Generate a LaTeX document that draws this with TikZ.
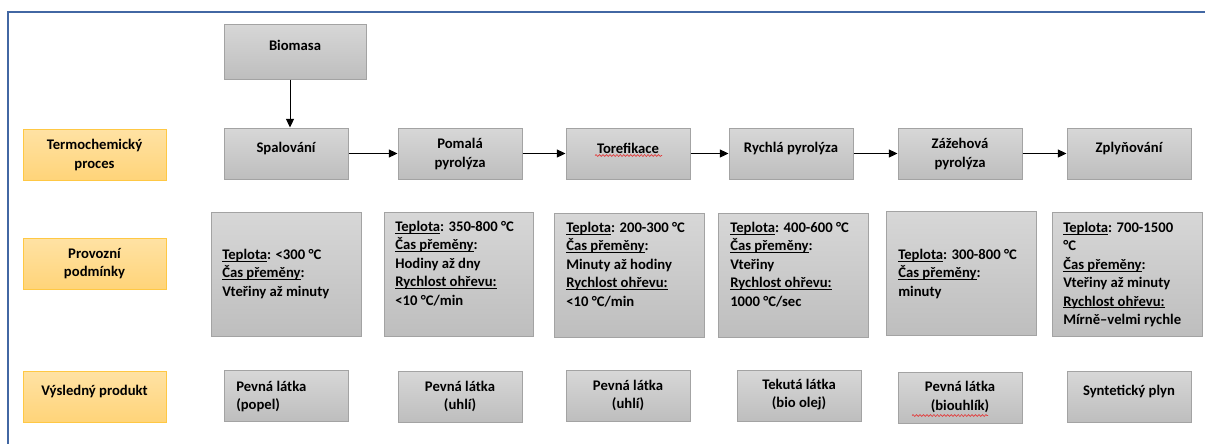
\documentclass[tikz,border=0pt]{standalone}
\usepackage{fontspec}
\setmainfont{Carlito}
\usetikzlibrary{arrows.meta,decorations.pathmorphing,calc}
\definecolor{gtop}{HTML}{D7D7D7}
\definecolor{gbot}{HTML}{BEBEBE}
\definecolor{gborder}{HTML}{A3A3A3}
\definecolor{otop}{HTML}{FFE2A4}
\definecolor{obot}{HTML}{FFD479}
\definecolor{oborder}{HTML}{FFC844}
\definecolor{frameblue}{HTML}{4267A3}
\definecolor{squig}{HTML}{E23B3B}
\newcommand\lefttab[1]{\begin{tabular}[t]{@{}l@{}}#1\end{tabular}}
\newsavebox\ulbox
\newcommand\ul[1]{\sbox\ulbox{#1}\rlap{\rule[-1.5pt]{\wd\ulbox}{0.6pt}}\usebox\ulbox}
\tikzset{
  gbox/.style={draw=gborder, line width=0.75pt, top color=gtop, bottom color=gbot, inner sep=0pt},
  obox/.style={draw=oborder, line width=0.75pt, top color=otop, bottom color=obot, inner sep=0pt},
  txt/.style={font=\fontsize{11}{13.8}\selectfont\bfseries, inner sep=0pt, text=black, align=center},
  arr/.style={line width=0.75pt, -{Triangle[length=6.5pt,width=6pt]}},
  squiggle/.style={squig, line width=0.5pt, decorate, decoration={snake, segment length=2.6pt, amplitude=0.7pt}},
}
% \bx{style}{name}{x1}{y1}{x2}{y2}
\newcommand\bx[6]{\node[#1, minimum width={(#5-#3)*0.75pt}, minimum height={(#6-#4)*0.75pt}] (#2) at ({(#3+#5)/2},{(#4+#6)/2}) {};}
\begin{document}
\begin{tikzpicture}[x=0.75pt,y=-0.75pt]
\useasboundingbox (0,0) rectangle (1205,444);
\fill[white] (0,0) rectangle (1205,444);
% frame
\draw[frameblue, line width=1.5pt] (1205,11.5) -- (7.5,11.5) -- (7.5,444);

% row labels
\bx{obox}{lab1}{23}{129}{166}{180}
\bx{obox}{lab2}{23}{238}{166}{289}
\bx{obox}{lab3}{23}{371}{166}{422}
\node[txt] (lab1t) at (94.5,155) {Termochemický\\proces};
\node[txt] (lab2t) at (94.5,263.5) {Provozní\\podmínky};
\node[txt] (lab3t) at (94.5,391) {Výsledný produkt};

% biomass
\bx{gbox}{bio}{224}{24}{366}{79}
\node[txt] (biot) at (295,45) {Biomasa};

% row 1: processes
\bx{gbox}{p1}{224}{128}{348}{179}
\bx{gbox}{p2}{398}{128}{522}{179}
\bx{gbox}{p3}{566}{128}{690}{179}
\bx{gbox}{p4}{729}{128}{853}{179}
\bx{gbox}{p5}{898}{128}{1022}{179}
\bx{gbox}{p6}{1067}{128}{1191}{179}
\node[txt] (p1t) at (286,148) {Spalování};
\node[txt] (p2t) at (460,154) {Pomalá\\pyrolýza};
\node[txt] (p3t) at (628,148) {Torefikace};
\node[txt] (p4t) at (791,148) {Rychlá pyrolýza};
\node[txt] (p5t) at (960,154) {Zážehová\\pyrolýza};
\node[txt] (p6t) at (1129,148) {Zplyňování};
\draw[squiggle] (595,155.5) -- (662,155.5);

% arrows
\coordinate (bx) at (290,0);
\draw[arr] (bio.south -| bx) -- (p1.north -| bx);
\draw[arr] (p1.east) -- (p2.west);
\draw[arr] (p2.east) -- (p3.west);
\draw[arr] (p3.east) -- (p4.west);
\draw[arr] (p4.east) -- (p5.west);
\draw[arr] (p5.east) -- (p6.west);

% row 2: conditions
\bx{gbox}{c1}{211}{212}{361}{336}
\bx{gbox}{c2}{384}{212}{533}{336}
\bx{gbox}{c3}{554}{213}{704}{337}
\bx{gbox}{c4}{718}{213}{868}{337}
\bx{gbox}{c5}{886}{211}{1036}{335}
\bx{gbox}{c6}{1052}{212}{1202}{336}
\node[txt, anchor=base west] (c1t) at (222,259.5) {\lefttab{\ul{Teplota}: <300 °C\\ \ul{Čas přeměny}:\\ Vteřiny až minuty}};
\node[txt, anchor=base west] (c2t) at (395,231.5) {\lefttab{\ul{Teplota}: 350-800 °C\\ \ul{Čas přeměny}:\\ Hodiny až dny\\ \ul{Rychlost ohřevu:}\\ <10 °C/min}};
\node[txt, anchor=base west] (c3t) at (566,232.5) {\lefttab{\ul{Teplota}: 200-300 °C\\ \ul{Čas přeměny}:\\ Minuty až hodiny\\ \ul{Rychlost ohřevu:}\\ <10 °C/min}};
\node[txt, anchor=base west] (c4t) at (730,232.5) {\lefttab{\ul{Teplota}: 400-600 °C\\ \ul{Čas přeměny}:\\ Vteřiny\\ \ul{Rychlost ohřevu:}\\ 1000 °C/sec}};
\node[txt, anchor=base west] (c5t) at (898,259.5) {\lefttab{\ul{Teplota}: 300-800 °C\\ \ul{Čas přeměny}:\\ minuty}};
\node[txt, anchor=base west] (c6t) at (1063,232.5) {\lefttab{\ul{Teplota}: 700-1500\\ °C\\ \ul{Čas přeměny}:\\ Vteřiny až minuty\\ \ul{Rychlost ohřevu:}\\ Mírně–velmi rychle}};

% row 3: products
\bx{gbox}{r1}{224}{370}{348}{421}
\bx{gbox}{r2}{398}{371}{522}{422}
\bx{gbox}{r3}{566}{370}{690}{421}
\bx{gbox}{r4}{737}{370}{861}{421}
\bx{gbox}{r5}{898}{372}{1022}{423}
\bx{gbox}{r6}{1067}{371}{1191}{422}
\node[txt, anchor=base west] (r1t) at (236,391.5) {\lefttab{Pevná látka\\ (popel)}};
\node[txt] (r2t) at (460,396.5) {Pevná látka\\(uhlí)};
\node[txt] (r3t) at (628,395.5) {Pevná látka\\(uhlí)};
\node[txt] (r4t) at (799,394.5) {Tekutá látka\\(bio olej)};
\node[txt] (r5t) at (960,397) {Pevná látka\\(biouhlík)};
\node[txt] (r6t) at (1129,391) {Syntetický plyn};
\draw[squiggle] (912,415.5) -- (988,415.5);
\end{tikzpicture}
\end{document}
